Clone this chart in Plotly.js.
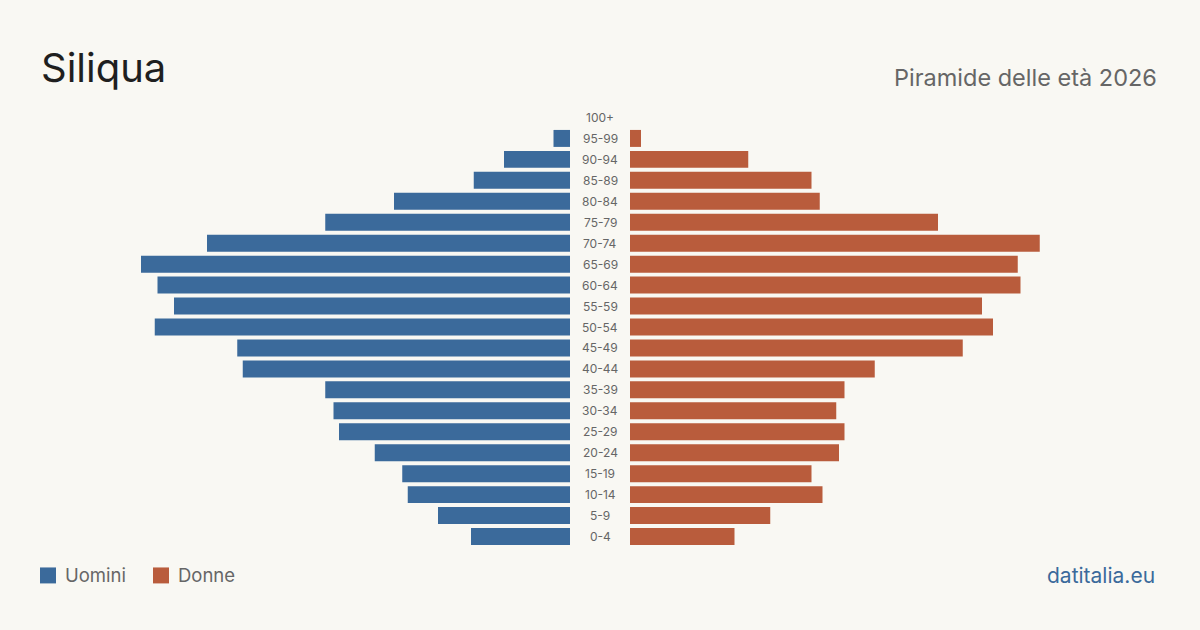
<!DOCTYPE html>
<html>
<head>
<meta charset="utf-8">
<script src="https://cdn.plot.ly/plotly-3.0.1.min.js"></script>
<style>
  html, body { margin: 0; padding: 0; background: #f9f8f3; }
  #chart { width: 1200px; height: 630px; }
</style>
</head>
<body>
<div id="chart"></div>
<script>
// Age groups, youngest first (bottom of the pyramid)
const ageGroups = ["0-4","5-9","10-14","15-19","20-24","25-29","30-34","35-39","40-44","45-49",
                   "50-54","55-59","60-64","65-69","70-74","75-79","80-84","85-89","90-94","95-99","100+"];
// Residents by age group
const men   = [36, 48, 59, 61, 71, 84, 86, 89, 119, 121, 151, 144, 150, 156, 132, 89, 64, 35, 24, 6, 0];
const women = [38, 51, 70, 66, 76, 78, 75, 78, 89, 121, 132, 128, 142, 141, 149, 112, 69, 66, 43, 4, 0];

const colMen = "#3b6a9b";
const colWomen = "#b95c3c";
const font = "Inter, 'Noto Sans', sans-serif";

// Pixel geometry: plot area 40..1160, centre gap 570..630
const W = 1200, H = 630;
const L = 40, R = 1160;
const gapL = 570, gapR = 630;
const pxPerUnit = 2.75;
const maxRange = (gapL - L) / pxPerUnit;

const traces = [
  {
    type: "bar", orientation: "h", name: "Uomini",
    y: ageGroups, x: men, xaxis: "x", yaxis: "y",
    marker: { color: colMen }, hoverinfo: "x+y"
  },
  {
    type: "bar", orientation: "h", name: "Donne",
    y: ageGroups, x: women, xaxis: "x2", yaxis: "y",
    marker: { color: colWomen }, hoverinfo: "x+y"
  }
];

// Age-group labels in the centre gap
const ageAnnotations = ageGroups.map(g => ({
  x: 0.5, xref: "paper", y: g, yref: "y",
  text: g, showarrow: false, xanchor: "center", yanchor: "middle",
  font: { family: font, size: 12, color: "#666" }
}));

const plotW = R - L;
const layout = {
  width: W, height: H,
  paper_bgcolor: "#f9f8f3", plot_bgcolor: "#f9f8f3",
  margin: { l: L, r: W - R, t: 106.5, b: 82.5, pad: 0 },
  showlegend: false,
  bargap: 0.19,
  xaxis: {
    domain: [0, (gapL - L) / plotW], range: [maxRange, 0],
    showgrid: false, zeroline: false, showticklabels: false, ticks: "", fixedrange: true
  },
  xaxis2: {
    domain: [(gapR - L) / plotW, 1], range: [0, maxRange], anchor: "y",
    showgrid: false, zeroline: false, showticklabels: false, ticks: "", fixedrange: true
  },
  yaxis: {
    type: "category", categoryorder: "array", categoryarray: ageGroups,
    range: [-0.5, ageGroups.length - 0.5],
    showgrid: false, zeroline: false, showticklabels: false, ticks: "", fixedrange: true
  },
  annotations: ageAnnotations.concat([
    { x: 39 / W, y: 1 - 67 / H, xref: "paper", yref: "paper", xanchor: "left", yanchor: "middle",
      text: "Siliqua", showarrow: false, font: { family: font, size: 40, color: "#1f1f1f" } },
    { x: 1159 / W, y: 1 - 77 / H, xref: "paper", yref: "paper", xanchor: "right", yanchor: "middle",
      text: "Piramide delle età 2026", showarrow: false, font: { family: font, size: 23.5, color: "#666" } },
    { x: 63 / W, y: 1 - 576 / H, xref: "paper", yref: "paper", xanchor: "left", yanchor: "middle",
      text: "Uomini", showarrow: false, font: { family: font, size: 18.5, color: "#666" } },
    { x: 176 / W, y: 1 - 576 / H, xref: "paper", yref: "paper", xanchor: "left", yanchor: "middle",
      text: "Donne", showarrow: false, font: { family: font, size: 18.5, color: "#666" } },
    { x: 1157 / W, y: 1 - 576 / H, xref: "paper", yref: "paper", xanchor: "right", yanchor: "middle",
      text: "datitalia.eu", showarrow: false, font: { family: font, size: 21, color: "#3b6a9b" } }
  ]),
  shapes: [
    { type: "rect", xref: "paper", yref: "paper",
      x0: 40 / W, x1: 56 / W, y0: 1 - 568 / H, y1: 1 - 584 / H,
      fillcolor: colMen, line: { width: 0 } },
    { type: "rect", xref: "paper", yref: "paper",
      x0: 153 / W, x1: 169 / W, y0: 1 - 568 / H, y1: 1 - 584 / H,
      fillcolor: colWomen, line: { width: 0 } }
  ]
};

// Paper coords above are in pixels of the whole figure; convert to plot-area fraction
const plotH = H - layout.margin.t - layout.margin.b;
function toPaperX(px) { return (px - L) / plotW; }
function toPaperY(pyFromTop) { return (H - layout.margin.b - pyFromTop) / plotH; }
layout.annotations.forEach(a => {
  if (a.xref === "paper" && a.yref === "paper") {
    a.x = toPaperX(a.x * W);
    a.y = toPaperY((1 - a.y) * H);
  }
});
layout.shapes.forEach(s => {
  s.x0 = toPaperX(s.x0 * W); s.x1 = toPaperX(s.x1 * W);
  s.y0 = toPaperY((1 - s.y0) * H); s.y1 = toPaperY((1 - s.y1) * H);
});

Plotly.newPlot("chart", traces, layout, { displayModeBar: false, staticPlot: true });
</script>
</body>
</html>
